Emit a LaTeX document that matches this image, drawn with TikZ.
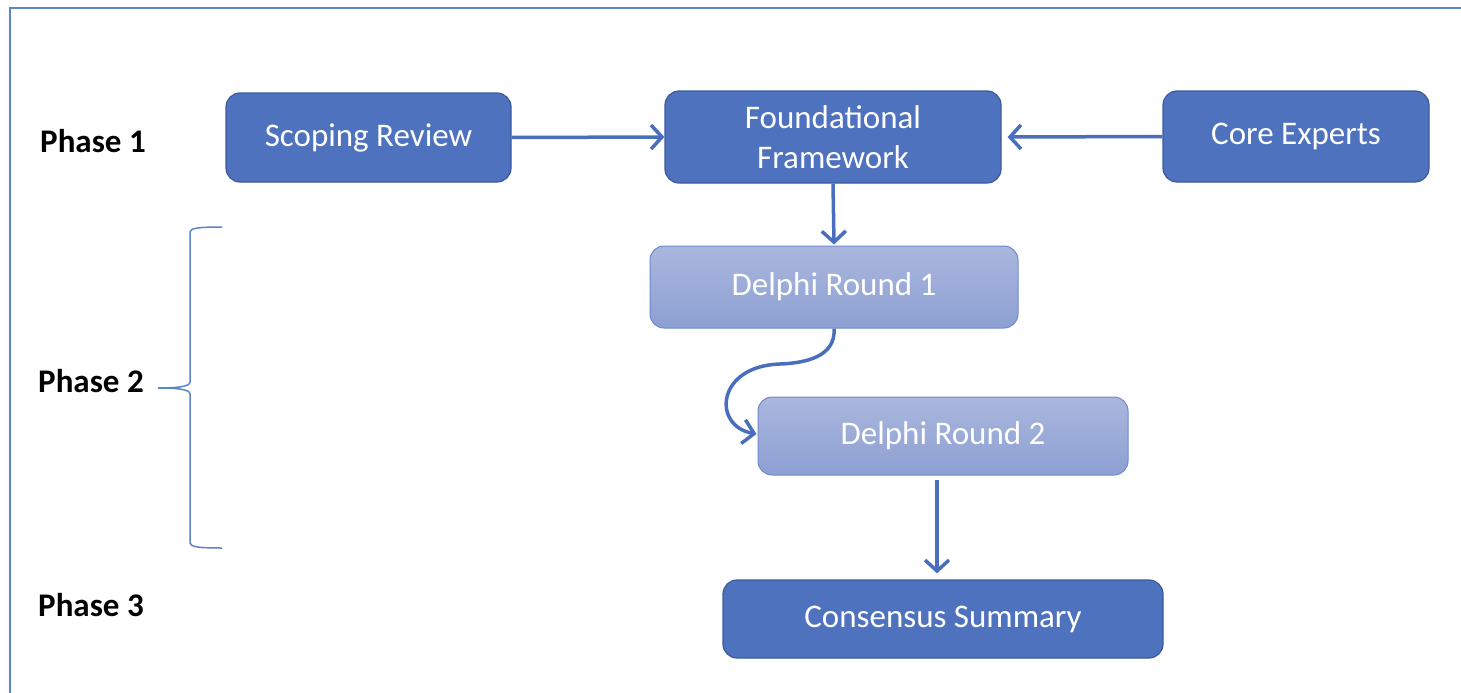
\documentclass[tikz,border=0pt]{standalone}
\usepackage{fontspec}
\setmainfont{Carlito}
\usetikzlibrary{arrows.meta,decorations.pathreplacing,calc}
\definecolor{darkfill}{HTML}{4F72BE}
\definecolor{darkline}{HTML}{3B5A9C}
\definecolor{lighttop}{HTML}{AAB7DD}
\definecolor{lightbot}{HTML}{8DA0D3}
\definecolor{lightline}{HTML}{6E89CC}
\definecolor{arrowc}{HTML}{4A6EBE}
\definecolor{framec}{HTML}{5B86C6}
\tikzset{
  darkbox/.style={draw=darkline, line width=1.2pt, fill=darkfill, rounded corners=14pt,
    text=white, font=\fontsize{33}{40}\selectfont, align=center, inner sep=0pt},
  lightbox/.style={draw=lightline, line width=1pt, top color=lighttop, bottom color=lightbot,
    rounded corners=14pt, text=white, font=\fontsize{33}{40}\selectfont, align=center, inner sep=0pt},
  phase/.style={font=\bfseries\fontsize{33}{36}\selectfont, anchor=west, inner sep=0pt},
  conn/.style={draw=arrowc, line width=3.5pt, -{Straight Barb[length=11pt,width=24pt,line width=3.5pt]}}
}
\begin{document}
\begin{tikzpicture}[x=1pt,y=-1pt]
\useasboundingbox (0,0) rectangle (1461,693);
% frame (top and left only)
\draw[framec, line width=2pt] (1461,8) -- (10,8) -- (10,693);
% nodes
\node[darkbox, minimum width=285pt, minimum height=89pt] (sr) at (368.5,137.5) {Scoping Review};
\node[darkbox, minimum width=336pt, minimum height=92pt] (ff) at (833,137) {Foundational\\Framework};
\node[darkbox, minimum width=266pt, minimum height=91pt] (ce) at (1296,136.5) {Core Experts};
\node[lightbox, minimum width=368pt, minimum height=82pt] (d1) at (834,287) {Delphi Round 1};
\node[lightbox, minimum width=370pt, minimum height=78pt] (d2) at (943,436) {Delphi Round 2};
\node[darkbox, minimum width=440pt, minimum height=78pt] (cs) at (943,619) {Consensus Summary};
% phase labels
\node[phase] (p1) at (40,141) {Phase 1};
\node[phase] (p2) at (38,381) {Phase 2};
\node[phase] (p3) at (38,605) {Phase 3};
% connectors
\draw[conn] (sr.east) -- (ff.west);
\draw[conn] (ce.west) -- ($(ff.east)+(6,0)$);
\draw[conn] (ff.south) -- ($(d1.north)+(0,-1)$);
\coordinate (cmid) at (780,364);
\draw[conn] (d1.south) .. controls (836,357) and (805,363) .. (cmid)
  .. controls (716,366) and (712,426) .. ($(d2.west)+(-1,-2)$);
\coordinate (csrc) at (937,480);
\draw[conn] (csrc) -- ($(csrc |- cs.north)+(0,-6)$);
% brace
\draw[framec, line width=1.5pt]
  (222,227) .. controls (200,227) and (190,228) .. (190,232)
  -- (190,382) .. controls (190,387) and (175,388) .. (158,388)
  .. controls (175,388) and (190,389) .. (190,394)
  -- (190,543) .. controls (190,547) and (200,548) .. (222,548);
\end{tikzpicture}
\end{document}
